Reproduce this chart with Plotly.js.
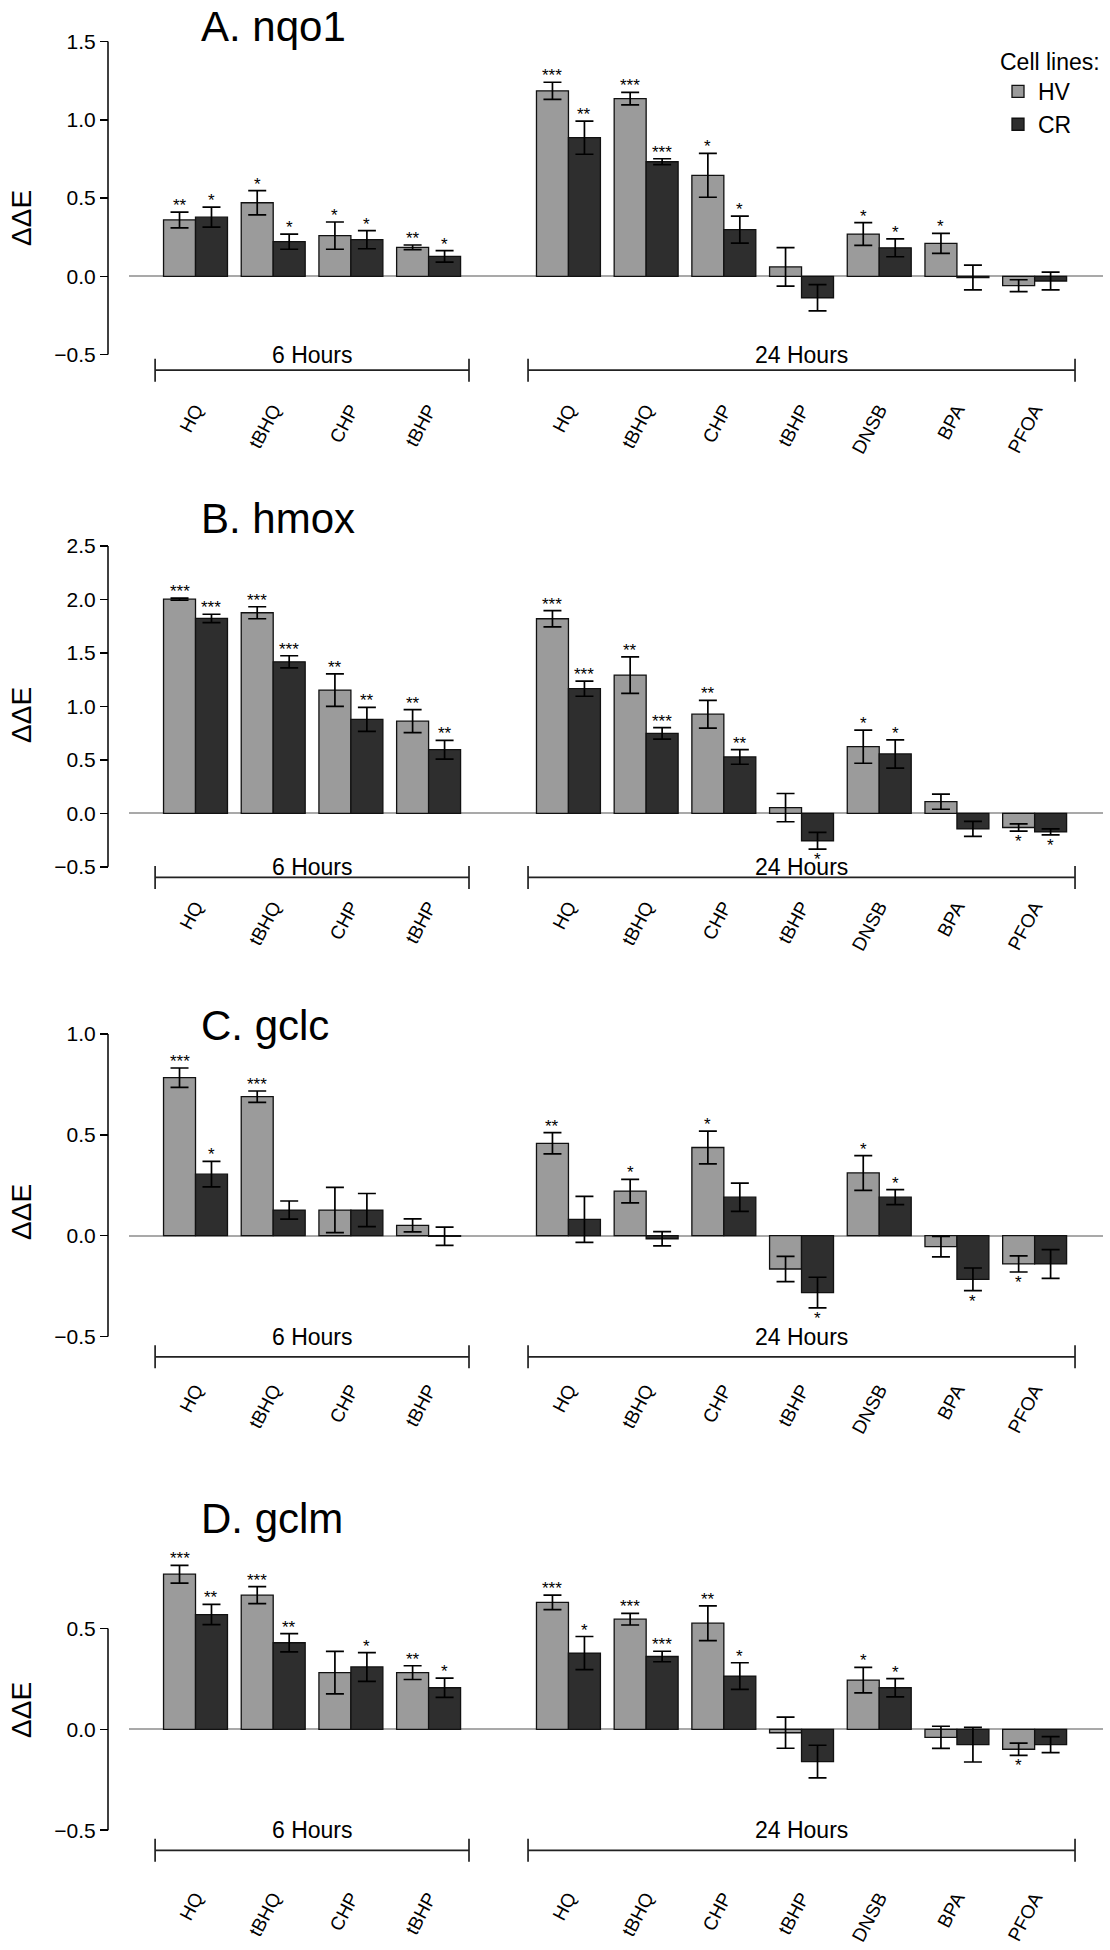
<!DOCTYPE html>
<html><head><meta charset="utf-8">
<script src="https://cdn.plot.ly/plotly-3.0.1.min.js"></script>
<style>html,body{margin:0;padding:0;background:#fff}#chart{width:1110px;height:1950px}</style>
</head><body><div id="chart"></div>
<script>
// ---------------- data ----------------
const hours6 = ['HQ', 'tBHQ', 'CHP', 'tBHP'];
const hours24 = ['HQ', 'tBHQ', 'CHP', 'tBHP', 'DNSB', 'BPA', 'PFOA'];
const groupLabels = ['6 Hours', '24 Hours'];
const seriesNames = ['HV', 'CR'];
const panelTitles = ['A. nqo1', 'B. hmox', 'C. gclc', 'D. gclm'];
const yTickVals = [[-0.5, 0, 0.5, 1, 1.5], [-0.5, 0, 0.5, 1, 1.5, 2, 2.5], [-0.5, 0, 0.5, 1], [-0.5, 0, 0.5]];

// A. nqo1
const nqo1HV    = [0.36, 0.47, 0.26, 0.185, 1.185, 1.135, 0.645, 0.06, 0.27, 0.21, -0.06];
const nqo1HVse  = [0.05, 0.078, 0.087, 0.015, 0.055, 0.04, 0.14, 0.123, 0.073, 0.064, 0.038];
const nqo1HVsig = ['**', '*', '*', '**', '***', '***', '*', '', '*', '*', ''];
const nqo1CR    = [0.378, 0.221, 0.234, 0.127, 0.886, 0.732, 0.298, -0.137, 0.182, -0.008, -0.03];
const nqo1CRse  = [0.064, 0.048, 0.058, 0.037, 0.106, 0.019, 0.086, 0.084, 0.057, 0.079, 0.057];
const nqo1CRsig = ['*', '*', '*', '*', '**', '***', '*', '', '*', '', ''];
// B. hmox
const hmoxHV    = [2.003, 1.876, 1.153, 0.862, 1.82, 1.293, 0.927, 0.053, 0.623, 0.109, -0.133];
const hmoxHVse  = [0.01, 0.056, 0.152, 0.107, 0.076, 0.171, 0.13, 0.132, 0.155, 0.071, 0.034];
const hmoxHVsig = ['***', '***', '**', '**', '***', '**', '**', '', '*', '', '*'];
const hmoxCR    = [1.823, 1.417, 0.878, 0.595, 1.166, 0.747, 0.527, -0.257, 0.555, -0.146, -0.174];
const hmoxCRse  = [0.039, 0.057, 0.112, 0.088, 0.071, 0.054, 0.068, 0.078, 0.132, 0.07, 0.028];
const hmoxCRsig = ['***', '***', '**', '**', '***', '***', '**', '*', '*', '', '*'];
// C. gclc
const gclcHV    = [0.783, 0.689, 0.127, 0.051, 0.458, 0.221, 0.437, -0.165, 0.311, -0.054, -0.14];
const gclcHVse  = [0.048, 0.028, 0.112, 0.032, 0.053, 0.058, 0.081, 0.063, 0.086, 0.051, 0.04];
const gclcHVsig = ['***', '***', '', '', '**', '*', '*', '', '*', '', '*'];
const gclcCR    = [0.305, 0.127, 0.127, -0.003, 0.081, -0.015, 0.191, -0.282, 0.191, -0.216, -0.14];
const gclcCRse  = [0.063, 0.045, 0.082, 0.045, 0.114, 0.035, 0.07, 0.076, 0.037, 0.056, 0.071];
const gclcCRsig = ['*', '', '', '', '', '', '', '*', '*', '*', ''];
// D. gclm
const gclmHV    = [0.769, 0.665, 0.281, 0.281, 0.629, 0.546, 0.526, -0.017, 0.244, -0.04, -0.099];
const gclmHVse  = [0.044, 0.042, 0.105, 0.034, 0.036, 0.029, 0.086, 0.077, 0.063, 0.055, 0.03];
const gclmHVsig = ['***', '***', '', '**', '***', '***', '**', '', '*', '', '*'];
const gclmCR    = [0.569, 0.429, 0.309, 0.206, 0.378, 0.361, 0.264, -0.16, 0.206, -0.076, -0.076];
const gclmCRse  = [0.05, 0.045, 0.071, 0.048, 0.082, 0.026, 0.066, 0.081, 0.045, 0.086, 0.04];
const gclmCRsig = ['**', '**', '*', '*', '*', '***', '*', '', '*', '', ''];

const panels = [
  {HV: nqo1HV, HVse: nqo1HVse, HVsig: nqo1HVsig, CR: nqo1CR, CRse: nqo1CRse, CRsig: nqo1CRsig},
  {HV: hmoxHV, HVse: hmoxHVse, HVsig: hmoxHVsig, CR: hmoxCR, CRse: hmoxCRse, CRsig: hmoxCRsig},
  {HV: gclcHV, HVse: gclcHVse, HVsig: gclcHVsig, CR: gclcCR, CRse: gclcCRse, CRsig: gclcCRsig},
  {HV: gclmHV, HVse: gclmHVse, HVsig: gclmHVsig, CR: gclmCR, CRse: gclmCRse, CRsig: gclmCRsig}
];

// ---------------- layout constants (pixels of a 1110 x 1950 page) ----------------
const W = 1110, H = 1950;
const FONT = 'Liberation Sans, Arial, Helvetica, sans-serif';
const colors = ['#9b9b9b', '#2e2e2e'];
const groupGap = 1.8;           // distance between last 6 h and first 24 h category
const bargap = 0.177;
const xPx = [129, 1103];        // plot area left/right
const xRange = [-0.856, 11.68];
const axisLinePx = 108;
// per panel: pixel of y=0, pixels per unit, plot area top/bottom, title centre, y-title centre
const geo = [
  {zero: 276.3, scale: 156.5, top: 20,   bottom: 394,  title: 27,   ytitle: 218},
  {zero: 813.3, scale: 106.9, top: 500,  bottom: 891,  title: 518,  ytitle: 715},
  {zero: 1235.7, scale: 201.8, top: 1000, bottom: 1374, title: 1025, ytitle: 1212},
  {zero: 1729.3, scale: 201.7, top: 1495, bottom: 1882, title: 1518, ytitle: 1710}
];
const py = px => 1 - px / H;
const pxX = px => px / W;

const positions = hours6.map((_, i) => i).concat(hours24.map((_, k) => hours6.length - 1 + groupGap + k));
const tickText = hours6.concat(hours24);
const barW = (1 - bargap) / 2;

const traces = [], shapes = [], annotations = [];
const layout = {
  width: W, height: H,
  margin: {l: 0, r: 0, t: 0, b: 0},
  paper_bgcolor: '#fff', plot_bgcolor: 'rgba(0,0,0,0)',
  barmode: 'group', bargap: bargap, bargroupgap: 0,
  font: {family: FONT, color: '#000'},
  showlegend: true,
  legend: {
    x: pxX(998), y: py(40), xanchor: 'left', yanchor: 'top',
    bgcolor: 'rgba(0,0,0,0)', borderwidth: 0,
    font: {family: FONT, size: 23, color: '#000'},
    title: {text: 'Cell lines:', font: {family: FONT, size: 23, color: '#000'}},
    tracegroupgap: 0, itemclick: false
  }
};

panels.forEach((p, i) => {
  const g = geo[i];
  const sfx = i === 0 ? '' : String(i + 1);
  const xa = 'x' + sfx, ya = 'y' + sfx;
  const yr = [(g.zero - g.bottom) / g.scale, (g.zero - g.top) / g.scale];

  layout['xaxis' + sfx] = {
    domain: [pxX(xPx[0]), pxX(xPx[1])], range: xRange, anchor: ya,
    tickmode: 'array', tickvals: positions, ticktext: tickText, tickangle: -62,
    tickfont: {family: FONT, size: 19, color: '#000'},
    showline: false, ticks: '', showgrid: false, zeroline: false, fixedrange: true
  };
  layout['yaxis' + sfx] = {
    domain: [py(g.bottom), py(g.top)], range: yr, anchor: 'free', position: pxX(axisLinePx),
    tickmode: 'array', tickvals: yTickVals[i], tickformat: '.1f',
    ticks: 'outside', ticklen: 8, tickwidth: 1.5, tickcolor: '#000',
    tickfont: {family: FONT, size: 21, color: '#000'},
    showline: false, showgrid: false,
    zeroline: true, zerolinecolor: '#a9a9a9', zerolinewidth: 2,
    fixedrange: true
  };

  // axis line spanning the tick range only
  const yt = yTickVals[i];
  shapes.push({type: 'line', xref: 'paper', yref: ya, x0: pxX(axisLinePx), x1: pxX(axisLinePx),
    y0: Math.min(...yt), y1: Math.max(...yt), line: {color: '#000', width: 1.5}});

  seriesNames.forEach((s, si) => {
    const vals = p[s], se = p[s + 'se'], sig = p[s + 'sig'];
    traces.push({
      type: 'bar', name: s, x: positions, y: vals,
      xaxis: xa, yaxis: ya, legendgroup: s, showlegend: i === 0,
      marker: {color: colors[si], line: {color: '#111', width: 1.3}},
      error_y: {type: 'data', array: se, visible: true, color: '#000', thickness: 1.7, width: 9},
      hoverinfo: 'skip'
    });
    const off = (si === 0 ? -1 : 1) * barW / 2;
    sig.forEach((t, k) => {
      if (!t) return;
      const up = vals[k] >= 0;
      annotations.push({
        xref: xa, yref: ya, x: positions[k] + off, y: up ? vals[k] + se[k] : vals[k] - se[k],
        text: t, showarrow: false, xanchor: 'center', yanchor: up ? 'bottom' : 'top',
        yshift: up ? -5 : 1, font: {family: FONT, size: 17, color: '#000'}
      });
    });
  });

  // group brackets and labels
  const groups = [positions.slice(0, hours6.length), positions.slice(hours6.length)];
  groups.forEach((gp, gi) => {
    const x0 = gp[0] - 0.52, x1 = gp[gp.length - 1] + 0.52;
    shapes.push({type: 'line', xref: xa, yref: ya, x0: x0, x1: x1, y0: -0.6, y1: -0.6,
      line: {color: '#222', width: 1.7}});
    [x0, x1].forEach(xe => shapes.push({type: 'line', xref: xa, yref: ya, ysizemode: 'pixel',
      yanchor: -0.6, x0: xe, x1: xe, y0: -11.5, y1: 11.5, line: {color: '#222', width: 1.7}}));
    annotations.push({xref: xa, yref: ya, x: (x0 + x1) / 2, y: -0.5, text: groupLabels[gi],
      showarrow: false, xanchor: 'center', yanchor: 'middle',
      font: {family: FONT, size: 23, color: '#000'}});
  });

  annotations.push({xref: 'paper', yref: 'paper', x: pxX(199), y: py(g.title), text: panelTitles[i],
    showarrow: false, xanchor: 'left', yanchor: 'middle', font: {family: FONT, size: 42, color: '#000'}});
  annotations.push({xref: 'paper', yref: 'paper', x: pxX(21), y: py(g.ytitle), text: 'ΔΔE',
    textangle: -90, showarrow: false, xanchor: 'center', yanchor: 'middle',
    font: {family: FONT, size: 28, color: '#000'}});
});

layout.shapes = shapes;
layout.annotations = annotations;
Plotly.newPlot('chart', traces, layout, {staticPlot: true, displayModeBar: false});
</script></body></html>
